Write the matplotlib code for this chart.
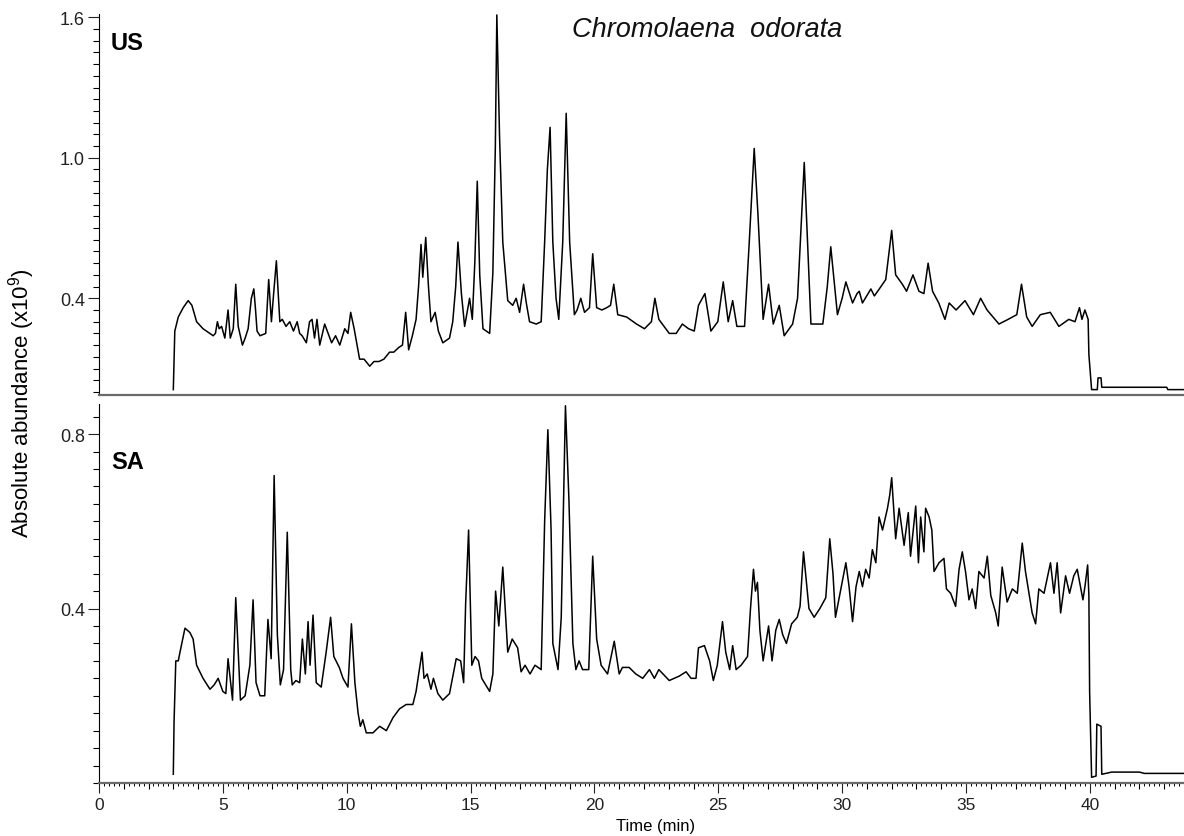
import matplotlib
matplotlib.use("Agg")
import matplotlib.pyplot as plt
import numpy as np

plt.rcParams['font.family'] = ['Liberation Sans', 'DejaVu Sans']
plt.rcParams['mathtext.fontset'] = 'custom'
plt.rcParams['mathtext.rm'] = 'Liberation Sans'

# chromatogram traces (time in min, abundance x10^9)
us_time = [
    3.00, 3.03, 3.06, 3.20, 3.40, 3.60, 3.75, 3.94, 4.20, 4.61,
    4.70, 4.78, 4.85, 4.95, 5.08, 5.21, 5.30, 5.42, 5.52, 5.62,
    5.79, 5.90, 6.02, 6.15, 6.25, 6.32, 6.38, 6.50, 6.73, 6.85,
    6.96, 7.05, 7.16, 7.30, 7.40, 7.55, 7.70, 7.85, 8.00, 8.10,
    8.20, 8.37, 8.50, 8.60, 8.70, 8.80, 8.91, 9.11, 9.25, 9.39,
    9.55, 9.72, 9.92, 10.05, 10.16, 10.30, 10.52, 10.70, 10.93, 11.10,
    11.30, 11.50, 11.73, 11.90, 12.10, 12.25, 12.38, 12.50, 12.65, 12.80,
    12.90, 13.00, 13.07, 13.19, 13.30, 13.40, 13.57, 13.70, 13.88, 14.15,
    14.28, 14.40, 14.49, 14.63, 14.76, 14.96, 15.07, 15.17, 15.27, 15.37,
    15.50, 15.77, 15.90, 16.00, 16.06, 16.17, 16.30, 16.50, 16.70, 16.84,
    16.98, 17.14, 17.25, 17.38, 17.65, 17.85, 17.99, 18.10, 18.21, 18.32,
    18.45, 18.56, 18.72, 18.86, 19.00, 19.19, 19.30, 19.45, 19.60, 19.80,
    19.93, 20.09, 20.30, 20.50, 20.65, 20.78, 20.94, 21.30, 21.70, 22.02,
    22.30, 22.44, 22.60, 23.02, 23.30, 23.55, 23.80, 24.03, 24.20, 24.46,
    24.70, 24.98, 25.20, 25.40, 25.58, 25.75, 26.06, 26.25, 26.45, 26.60,
    26.81, 27.03, 27.22, 27.46, 27.66, 28.00, 28.20, 28.47, 28.74, 29.22,
    29.40, 29.54, 29.81, 30.00, 30.15, 30.42, 30.60, 30.69, 30.82, 31.16,
    31.30, 31.50, 31.76, 32.00, 32.16, 32.43, 32.60, 32.86, 33.10, 33.30,
    33.47, 33.65, 33.90, 34.15, 34.32, 34.60, 34.96, 35.30, 35.59, 35.85,
    36.33, 36.70, 37.05, 37.24, 37.45, 37.67, 38.00, 38.40, 38.75, 39.15,
    39.40, 39.58, 39.68, 39.80, 39.93, 39.96, 40.07, 40.30, 40.33, 40.45,
    40.48, 40.77, 43.10, 43.15, 43.80,
]
us_abund = [
    0.01, 0.14, 0.26, 0.32, 0.36, 0.39, 0.37, 0.30, 0.27, 0.24,
    0.25, 0.30, 0.27, 0.28, 0.23, 0.35, 0.23, 0.27, 0.46, 0.28,
    0.20, 0.23, 0.27, 0.40, 0.44, 0.35, 0.26, 0.24, 0.25, 0.48,
    0.30, 0.42, 0.56, 0.30, 0.31, 0.28, 0.30, 0.26, 0.30, 0.25,
    0.24, 0.21, 0.30, 0.31, 0.23, 0.31, 0.20, 0.29, 0.25, 0.21,
    0.24, 0.20, 0.27, 0.25, 0.34, 0.27, 0.14, 0.14, 0.11, 0.13,
    0.13, 0.14, 0.17, 0.17, 0.19, 0.20, 0.34, 0.18, 0.24, 0.31,
    0.45, 0.63, 0.49, 0.66, 0.45, 0.30, 0.34, 0.26, 0.21, 0.23,
    0.30, 0.45, 0.64, 0.42, 0.28, 0.40, 0.31, 0.55, 0.90, 0.50,
    0.27, 0.25, 0.51, 1.05, 1.61, 1.09, 0.64, 0.39, 0.37, 0.40,
    0.34, 0.46, 0.38, 0.30, 0.29, 0.30, 0.64, 0.95, 1.13, 0.64,
    0.40, 0.31, 0.64, 1.19, 0.64, 0.33, 0.35, 0.40, 0.34, 0.36,
    0.59, 0.36, 0.35, 0.36, 0.37, 0.46, 0.33, 0.32, 0.29, 0.27,
    0.30, 0.40, 0.31, 0.25, 0.25, 0.29, 0.27, 0.26, 0.37, 0.42,
    0.26, 0.30, 0.47, 0.30, 0.39, 0.28, 0.28, 0.64, 1.04, 0.76,
    0.31, 0.46, 0.29, 0.37, 0.24, 0.29, 0.40, 0.98, 0.29, 0.29,
    0.45, 0.62, 0.33, 0.40, 0.47, 0.38, 0.42, 0.43, 0.38, 0.44,
    0.41, 0.44, 0.48, 0.69, 0.50, 0.46, 0.43, 0.50, 0.43, 0.42,
    0.55, 0.43, 0.38, 0.31, 0.38, 0.35, 0.39, 0.33, 0.40, 0.35,
    0.29, 0.31, 0.33, 0.46, 0.32, 0.28, 0.33, 0.34, 0.28, 0.31,
    0.30, 0.36, 0.31, 0.35, 0.31, 0.16, 0.01, 0.01, 0.06, 0.06,
    0.02, 0.02, 0.02, 0.01, 0.01,
]

sa_time = [
    3.00, 3.03, 3.10, 3.20, 3.27, 3.47, 3.67, 3.80, 3.94, 4.20,
    4.48, 4.65, 4.81, 5.00, 5.12, 5.21, 5.39, 5.52, 5.71, 5.90,
    6.09, 6.22, 6.34, 6.50, 6.69, 6.82, 6.95, 7.07, 7.20, 7.32,
    7.45, 7.60, 7.74, 7.80, 7.95, 8.10, 8.21, 8.33, 8.44, 8.52,
    8.64, 8.77, 8.97, 9.17, 9.35, 9.48, 9.70, 9.85, 10.05, 10.19,
    10.33, 10.46, 10.55, 10.65, 10.79, 11.06, 11.33, 11.60, 11.87, 12.13,
    12.40, 12.67, 12.80, 13.04, 13.12, 13.25, 13.40, 13.50, 13.68, 13.88,
    14.15, 14.42, 14.60, 14.72, 14.80, 14.92, 15.05, 15.18, 15.32, 15.45,
    15.77, 15.90, 16.01, 16.14, 16.30, 16.50, 16.68, 16.90, 17.04, 17.20,
    17.40, 17.60, 17.85, 17.99, 18.12, 18.25, 18.32, 18.53, 18.66, 18.83,
    18.97, 19.13, 19.25, 19.38, 19.52, 19.77, 19.93, 20.09, 20.27, 20.53,
    20.80, 21.00, 21.13, 21.40, 21.67, 21.95, 22.22, 22.42, 22.60, 23.02,
    23.42, 23.70, 23.90, 24.10, 24.20, 24.44, 24.65, 24.80, 24.96, 25.17,
    25.30, 25.46, 25.58, 25.72, 25.92, 26.18, 26.30, 26.42, 26.50, 26.58,
    26.68, 26.81, 27.03, 27.17, 27.32, 27.46, 27.60, 27.75, 27.96, 28.19,
    28.30, 28.44, 28.66, 28.87, 29.10, 29.34, 29.50, 29.63, 29.73, 29.93,
    30.15, 30.28, 30.42, 30.56, 30.69, 30.82, 30.95, 31.09, 31.22, 31.36,
    31.49, 31.63, 31.83, 31.92, 32.00, 32.16, 32.30, 32.50, 32.67, 32.76,
    32.97, 33.08, 33.17, 33.30, 33.37, 33.51, 33.62, 33.71, 33.91, 34.11,
    34.21, 34.38, 34.58, 34.72, 34.85, 34.98, 35.12, 35.25, 35.39, 35.52,
    35.73, 35.86, 36.00, 36.20, 36.30, 36.46, 36.66, 36.87, 37.07, 37.27,
    37.40, 37.54, 37.67, 37.81, 37.94, 38.15, 38.41, 38.55, 38.68, 38.82,
    39.02, 39.18, 39.35, 39.49, 39.62, 39.72, 39.80, 39.91, 39.96, 39.99,
    40.07, 40.25, 40.28, 40.45, 40.48, 40.88, 42.00, 42.20, 43.80,
]
sa_abund = [
    0.02, 0.14, 0.28, 0.28, 0.30, 0.355, 0.345, 0.33, 0.27, 0.24,
    0.215, 0.225, 0.24, 0.21, 0.205, 0.285, 0.19, 0.425, 0.19, 0.20,
    0.27, 0.42, 0.23, 0.20, 0.20, 0.375, 0.285, 0.705, 0.34, 0.225,
    0.26, 0.575, 0.26, 0.225, 0.235, 0.23, 0.33, 0.25, 0.37, 0.27,
    0.385, 0.23, 0.22, 0.30, 0.38, 0.29, 0.265, 0.24, 0.22, 0.365,
    0.23, 0.16, 0.13, 0.145, 0.115, 0.115, 0.13, 0.12, 0.15, 0.17,
    0.18, 0.18, 0.21, 0.30, 0.24, 0.25, 0.215, 0.24, 0.205, 0.19,
    0.205, 0.285, 0.28, 0.23, 0.41, 0.58, 0.27, 0.29, 0.28, 0.24,
    0.21, 0.25, 0.44, 0.36, 0.495, 0.30, 0.33, 0.31, 0.255, 0.27,
    0.25, 0.27, 0.26, 0.60, 0.81, 0.58, 0.32, 0.26, 0.38, 0.865,
    0.65, 0.32, 0.26, 0.28, 0.26, 0.26, 0.52, 0.33, 0.27, 0.25,
    0.325, 0.25, 0.265, 0.265, 0.25, 0.24, 0.26, 0.24, 0.26, 0.235,
    0.245, 0.255, 0.24, 0.24, 0.31, 0.315, 0.28, 0.235, 0.27, 0.37,
    0.30, 0.26, 0.315, 0.26, 0.27, 0.29, 0.40, 0.49, 0.44, 0.46,
    0.35, 0.28, 0.36, 0.28, 0.35, 0.375, 0.34, 0.32, 0.365, 0.38,
    0.405, 0.53, 0.40, 0.38, 0.40, 0.425, 0.56, 0.48, 0.38, 0.44,
    0.505, 0.45, 0.37, 0.45, 0.485, 0.45, 0.49, 0.47, 0.535, 0.505,
    0.61, 0.58, 0.63, 0.66, 0.70, 0.56, 0.63, 0.545, 0.62, 0.52,
    0.635, 0.505, 0.61, 0.53, 0.63, 0.61, 0.58, 0.485, 0.505, 0.515,
    0.445, 0.435, 0.405, 0.49, 0.53, 0.485, 0.42, 0.445, 0.40, 0.485,
    0.47, 0.52, 0.43, 0.39, 0.36, 0.495, 0.415, 0.445, 0.435, 0.55,
    0.485, 0.435, 0.39, 0.365, 0.445, 0.435, 0.505, 0.435, 0.505, 0.39,
    0.475, 0.435, 0.475, 0.49, 0.45, 0.42, 0.45, 0.50, 0.43, 0.21,
    0.013, 0.016, 0.135, 0.13, 0.02, 0.025, 0.025, 0.022, 0.022,
]

us_yticks = [0.4, 1.0, 1.6]
sa_yticks = [0.4, 0.8]
time_ticks = [0, 5, 10, 15, 20, 25, 30, 35, 40]

W, H = 1184, 837
fig = plt.figure(figsize=(W / 100, H / 100), dpi=100)
ax1 = fig.add_axes([99 / W, 1 - 396 / H, 1 - 99 / W, 381 / H])
ax2 = fig.add_axes([99 / W, 1 - 784 / H, 1 - 99 / W, 379 / H])

ax1.plot(us_time, us_abund, color='black', lw=1.1)
ax2.plot(sa_time, sa_abund, color='black', lw=1.1)

for ax in (ax1, ax2):
    ax.set_xlim(0, 43.8)
    ax.spines['top'].set_visible(False)
    ax.spines['right'].set_visible(False)
    ax.spines['left'].set_linewidth(0.8)
    ax.spines['bottom'].set_color('#6a6a6a')
    ax.spines['bottom'].set_linewidth(1.6)
    ax.tick_params(axis='y', which='major', direction='out', length=8, width=0.8,
                   labelsize=13, pad=2, colors='#222222')
    ax.tick_params(axis='y', which='minor', direction='out', length=4.5, width=0.8)

ax1.set_ylim(-0.013, 1.614)
ax1.set_yticks(us_yticks)
ax1.set_yticklabels(['0.4', '1.0', '1.6'])
ax1.set_yticks(np.arange(0, 1.61, 0.05), minor=True)
ax1.tick_params(axis='x', which='both', bottom=False, labelbottom=False)

ax2.set_ylim(0, 0.869)
ax2.set_yticks(sa_yticks)
ax2.set_yticklabels(['0.4', '0.8'])
ax2.set_yticks(np.arange(0, 0.87, 0.04), minor=True)
ax2.set_xticks(time_ticks)
ax2.set_xticks(np.arange(0, 44, 1), minor=True)
ax2.tick_params(axis='x', which='major', direction='out', length=7, width=0.8,
                labelsize=12.5, pad=3, colors='#222222')
ax2.tick_params(axis='x', which='minor', direction='out', length=4.5, width=0.8)

# fine 0.2 min ticks
sec = ax2.secondary_xaxis('bottom')
sec.set_xticks([])
sec.set_xticks(np.arange(0, 43.9, 0.2), minor=True)
sec.tick_params(axis='x', which='minor', direction='out', length=2.5, width=0.7)
sec.spines['bottom'].set_visible(False)

ax1.text(111 / W, 1 - 43 / H, 'US', transform=fig.transFigure, fontsize=17,
         fontweight='bold', va='center', ha='left')
ax2.text(111 / W, 1 - 463 / H, 'SA', transform=fig.transFigure, fontsize=17,
         fontweight='bold', va='center', ha='left')
fig.text(707 / W, 1 - 30 / H, 'Chromolaena  odorata', fontsize=19.5, style='italic',
         ha='center', va='center', color='#111111')

fig.text(22 / W, 1 - 403 / H, 'Absolute abundance (x10$^{9}$)', rotation=90,
         fontsize=16, ha='center', va='center')
fig.text(656 / W, 1 - 827 / H, 'Time (min)', fontsize=12, ha='center', va='center')

fig.savefig('out.png', dpi=100)
